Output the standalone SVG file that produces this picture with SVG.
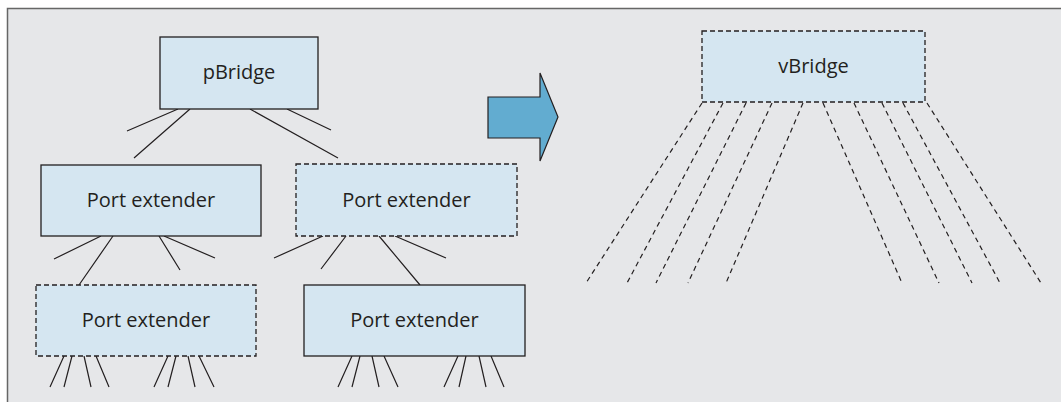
<svg xmlns="http://www.w3.org/2000/svg" width="1061" height="402" viewBox="0 0 1061 402">
<style>
.box{fill:#d5e6f1;stroke:#231f20;stroke-width:1.3}
.dash{stroke-dasharray:5,3}
.lbl{font-family:"Open Sans","Noto Sans",sans-serif;font-size:20px;fill:#231f20;text-anchor:middle}
.ln{stroke:#231f20;stroke-width:1.2;fill:none}
.dl{stroke:#231f20;stroke-width:1.2;fill:none;stroke-dasharray:5,4}
</style>
<rect x="0" y="0" width="1061" height="402" fill="#ffffff"/>
<rect x="8" y="9" width="1053" height="393" fill="#e6e7e9"/>
<path d="M7.5 402V8.5H1061" fill="none" stroke="#666" stroke-width="1.5"/>
<g id="connectors">
<path class="ln" d="M178 109L127 131M190 109L134 158M250 109L338 158M287 109L331 130"/>
<path class="ln" d="M101 236L54 259M113 236L79 285M159 236L180 270M164 236L215 258"/>
<path class="ln" d="M323 236L274 258M346 236L321 269M379 236L420 285M395 236L446 258"/>
<path class="ln" d="M64 356L50 387M72 356L64 387M84 356L91 387M96 356L109 387M168 356L154 387M176 356L168 387M188 356L195 387M199 356L214 387"/>
<path class="ln" d="M352 356L338 387M360 356L352 387M372 356L379 387M384 356L398 387M458 356L444 387M466 356L459 387M479 356L486 387M491 356L504 387"/>
<path class="dl" d="M702 103L586 283M723 103L627 283M746 103L656 283M772 103L688 283M803 103L726 283M823 103L902 283M854 103L939 283M882 103L972 283M903 103L1000 283M927 103L1041 283"/>
</g>
<g id="pBridge"><rect class="box" x="160" y="37" width="158" height="72"/><text class="lbl" x="239" y="79">pBridge</text></g>
<g id="pe1"><rect class="box" x="41" y="165" width="220" height="71"/><text class="lbl" x="151" y="207">Port extender</text></g>
<g id="pe2"><rect class="box dash" x="296" y="164" width="221" height="72"/><text class="lbl" x="406.5" y="207">Port extender</text></g>
<g id="pe3"><rect class="box dash" x="36" y="285" width="220" height="71"/><text class="lbl" x="146" y="327">Port extender</text></g>
<g id="pe4"><rect class="box" x="304" y="285" width="221" height="71"/><text class="lbl" x="414.5" y="327">Port extender</text></g>
<g id="arrow"><path d="M488 97H540V73L558 117L540 161V138H488Z" fill="#62acd0" stroke="#231f20" stroke-width="1.2"/></g>
<g id="vBridge"><rect class="box dash" x="702" y="31" width="223" height="71"/><text class="lbl" x="813.5" y="73">vBridge</text></g>
</svg>
